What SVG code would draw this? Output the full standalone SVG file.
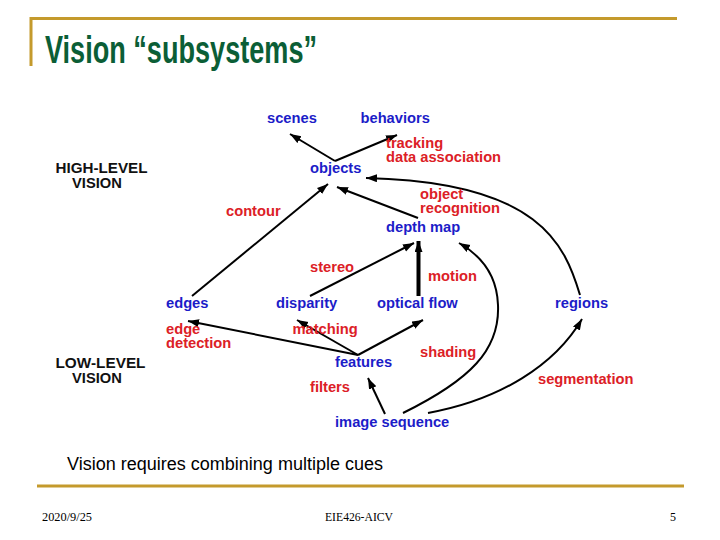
<svg xmlns="http://www.w3.org/2000/svg" width="720" height="540" viewBox="0 0 720 540">
<style>
.t{font-family:"Liberation Sans",Arial,sans-serif;font-weight:bold;font-size:14.7px}
.b{fill:#1c1cc8}
.r{fill:#dc2026}
.k{fill:#111}
.c{fill:none;stroke:#000;stroke-width:2}
.foot{font-family:"Liberation Serif","Times New Roman",serif;font-size:12px;fill:#000}
</style>
<defs>
<marker id="ah" markerUnits="userSpaceOnUse" markerWidth="12" markerHeight="10" refX="11" refY="4" orient="auto">
<path d="M0,0 L11,4 L0,8 z" fill="#000"/>
</marker>
</defs>
<rect width="720" height="540" fill="#fff"/>
<g id="frame">
<path d="M31,66 V18.5 H677" fill="none" stroke="#c49a2c" stroke-width="3"/>
<line x1="37" y1="486" x2="684" y2="486" stroke="#c49a2c" stroke-width="3"/>
</g>
<g id="title"><text x="45" y="63" font-family="Liberation Sans,Arial,sans-serif" font-weight="bold" font-size="38" fill="#0b5e36" textLength="272" lengthAdjust="spacingAndGlyphs">Vision “subsystems”</text></g>
<g id="subtitle"><text x="67" y="470" font-family="Liberation Sans,Arial,sans-serif" font-size="18" fill="#000" textLength="316" lengthAdjust="spacingAndGlyphs">Vision requires combining multiple cues</text></g>
<g id="footer">
<text class="foot" x="42" y="521" textLength="50" lengthAdjust="spacingAndGlyphs">2020/9/25</text>
<text class="foot" x="325" y="521" textLength="68" lengthAdjust="spacingAndGlyphs">EIE426-AICV</text>
<text class="foot" x="670" y="521">5</text>
</g>
<g id="connectors">
<line class="c" x1="335" y1="161" x2="290" y2="134" marker-end="url(#ah)"/>
<line class="c" x1="335" y1="161" x2="397" y2="135" marker-end="url(#ah)"/>
<line class="c" x1="192" y1="296" x2="328" y2="184" marker-end="url(#ah)"/>
<line class="c" x1="418" y1="218" x2="337" y2="187" marker-end="url(#ah)"/>
<path class="c" d="M580,295 C565,245 540,182 366,178" marker-end="url(#ah)"/>
<line class="c" x1="310" y1="296" x2="414" y2="243" marker-end="url(#ah)"/>
<line x1="418.5" y1="296" x2="418.5" y2="241" stroke="#000" stroke-width="4" marker-end="url(#ah)"/>
<path class="c" d="M403,413 C470,380 500,350 498,305 C497,275 480,255 459,243" marker-end="url(#ah)"/>
<path class="c" d="M428,413 C500,400 555,365 582,319" marker-end="url(#ah)"/>
<line class="c" x1="358" y1="355" x2="188" y2="321" marker-end="url(#ah)"/>
<line class="c" x1="358" y1="355" x2="297" y2="320" marker-end="url(#ah)"/>
<line class="c" x1="358" y1="355" x2="423" y2="320" marker-end="url(#ah)"/>
<line class="c" x1="385" y1="414" x2="368" y2="378" marker-end="url(#ah)"/>
</g>
<g id="level-labels">
<text class="t k" x="55.5" y="173" font-size="14" textLength="92" lengthAdjust="spacingAndGlyphs">HIGH-LEVEL</text>
<text class="t k" x="72" y="188" font-size="14">VISION</text>
<text class="t k" x="55.5" y="368" textLength="90" lengthAdjust="spacingAndGlyphs">LOW-LEVEL</text>
<text class="t k" x="72" y="383">VISION</text>
</g>
<g id="scenes"><text class="t b" x="267" y="123">scenes</text></g>
<g id="behaviors"><text class="t b" x="360.5" y="123">behaviors</text></g>
<g id="objects"><text class="t b" x="310" y="173">objects</text></g>
<g id="depth-map"><text class="t b" x="386" y="232">depth map</text></g>
<g id="edges"><text class="t b" x="166" y="308">edges</text></g>
<g id="disparity"><text class="t b" x="276" y="308">disparity</text></g>
<g id="optical-flow"><text class="t b" x="377" y="308">optical flow</text></g>
<g id="regions"><text class="t b" x="555" y="308">regions</text></g>
<g id="features"><text class="t b" x="335" y="367">features</text></g>
<g id="image-sequence"><text class="t b" x="335" y="426.5">image sequence</text></g>
<g id="process-labels">
<text class="t r" x="386" y="148">tracking</text>
<text class="t r" x="386" y="162">data association</text>
<text class="t r" x="226" y="216">contour</text>
<text class="t r" x="420" y="199">object</text>
<text class="t r" x="420" y="213">recognition</text>
<text class="t r" x="310" y="272">stereo</text>
<text class="t r" x="428" y="281">motion</text>
<text class="t r" x="166" y="334">edge</text>
<text class="t r" x="166" y="348">detection</text>
<text class="t r" x="292.5" y="334">matching</text>
<text class="t r" x="420" y="357">shading</text>
<text class="t r" x="310" y="392">filters</text>
<text class="t r" x="538" y="384">segmentation</text>
</g>
</svg>
